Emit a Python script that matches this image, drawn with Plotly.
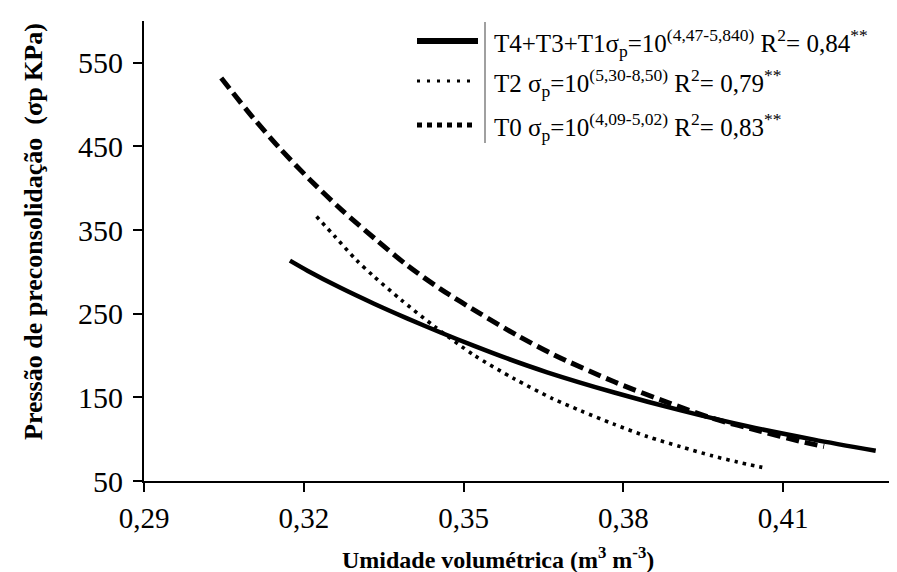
import plotly.graph_objects as go

# ---- data ----
solid_x = [0.3174, 0.3207, 0.3269, 0.3332, 0.3394, 0.3457, 0.3520, 0.3582, 0.3657, 0.3783, 0.3908, 0.4033, 0.4158, 0.4274]
solid_y = [313.5, 301.5, 281.0, 262.0, 244.5, 227.5, 211.5, 196.5, 180.0, 155.8, 134.4, 115.5, 99.5, 86.1]

t2_x = [0.3224, 0.3259, 0.3299, 0.3331, 0.3382, 0.3445, 0.3520, 0.3595, 0.3667, 0.3720, 0.3782, 0.3845, 0.3908, 0.3967, 0.4014, 0.4061]
t2_y = [366.3, 342.0, 314.0, 295.0, 267.0, 235.0, 200.4, 172.3, 148.6, 134.0, 118.0, 103.2, 91.0, 80.1, 72.8, 66.3]

t0_x = [0.3045, 0.3105, 0.3155, 0.3212, 0.3271, 0.3334, 0.3394, 0.3457, 0.3532, 0.3601, 0.3670, 0.3783, 0.3901, 0.3970, 0.4058, 0.4133, 0.4177]
t0_y = [531.8, 484.2, 447.8, 410.0, 374.2, 339.5, 308.0, 279.5, 249.8, 224.0, 200.8, 168.6, 139.8, 124.5, 109.5, 97.3, 91.3]

x_ticks = [0.29, 0.32, 0.35, 0.38, 0.41]
x_ticktext = ["0,29", "0,32", "0,35", "0,38", "0,41"]
y_ticks = [50, 150, 250, 350, 450, 550]

legend_texts = [
    "T4+T3+T1σ<sub>p</sub>=10<sup>(4,47-5,840)</sup> R<sup>2</sup>= 0,84<sup>**</sup>",
    "T2 σ<sub>p</sub>=10<sup>(5,30-8,50)</sup> R<sup>2</sup>= 0,79<sup>**</sup>",
    "T0 σ<sub>p</sub>=10<sup>(4,09-5,02)</sup> R<sup>2</sup>= 0,83<sup>**</sup>",
]

FONT = "Liberation Serif, Times New Roman, serif"
W, H = 897, 572
ML, MR, MT, MB = 136, 0, 13, 99
PW, PH = W - ML - MR, H - MT - MB

def px(x):
    return (x - ML) / PW

def py(y):
    return (H - MB - y) / PH

fig = go.Figure()
fig.add_trace(go.Scatter(x=t0_x, y=t0_y, mode="lines",
                         line=dict(color="black", width=5, dash="13px,6px", shape="spline", smoothing=0.8),
                         showlegend=False, hoverinfo="skip"))
fig.add_trace(go.Scatter(x=t2_x, y=t2_y, mode="lines",
                         line=dict(color="black", width=3.6, dash="3.5px,5px", shape="spline", smoothing=0.8),
                         showlegend=False, hoverinfo="skip"))
fig.add_trace(go.Scatter(x=solid_x, y=solid_y, mode="lines",
                         line=dict(color="black", width=4.5, shape="spline", smoothing=0.8),
                         showlegend=False, hoverinfo="skip"))

shapes = []
rows = [33, 73, 117]
shapes.append(dict(type="line", xref="paper", yref="paper", x0=px(409), x1=px(470), y0=py(rows[0]), y1=py(rows[0]),
                   line=dict(color="black", width=6)))
shapes.append(dict(type="line", xref="paper", yref="paper", x0=px(409), x1=px(468), y0=py(rows[1]), y1=py(rows[1]),
                   line=dict(color="black", width=3.2, dash="3px,7px")))
shapes.append(dict(type="line", xref="paper", yref="paper", x0=px(409), x1=px(469), y0=py(rows[2]), y1=py(rows[2]),
                   line=dict(color="black", width=5, dash="5px,5px")))
shapes.append(dict(type="line", xref="paper", yref="paper", x0=px(477), x1=px(477), y0=py(14), y1=py(135),
                   line=dict(color="#808080", width=1.5)))

annotations = []
for r, t in zip(rows, legend_texts):
    annotations.append(dict(xref="paper", yref="paper", x=px(484), y=py(r + 2), xanchor="left", yanchor="middle",
                            text=t, showarrow=False, font=dict(family=FONT, size=25, color="black")))

annotations.append(dict(xref="paper", yref="paper", x=px(490), y=py(550), xanchor="center", yanchor="middle",
                        text="<b>Umidade volumétrica (m<sup>3</sup> m<sup>-3</sup>)</b>", showarrow=False,
                        font=dict(family=FONT, size=24, color="black")))
annotations.append(dict(xref="paper", yref="paper", x=px(25), y=py(224), xanchor="center", yanchor="middle",
                        text="<b>Pressão de preconsolidação  (σp KPa)</b>", textangle=-90, showarrow=False,
                        font=dict(family=FONT, size=26, color="black")))

fig.update_layout(
    width=W, height=H,
    margin=dict(l=ML, r=MR, t=MT, b=MB, pad=0),
    paper_bgcolor="white", plot_bgcolor="white",
    font=dict(family=FONT, color="black"),
    xaxis=dict(range=[0.29, 0.4329], tickvals=x_ticks, ticktext=x_ticktext, showgrid=False, zeroline=False,
               showline=True, linecolor="black", linewidth=2, ticks="outside", ticklen=9, tickwidth=1.5,
               tickcolor="black", ticklabelstandoff=1, tickfont=dict(family=FONT, size=29, color="black")),
    yaxis=dict(range=[50, 600], tickvals=y_ticks, showgrid=False, zeroline=False,
               showline=True, linecolor="black", linewidth=2, ticks="outside", ticklen=9, tickwidth=1.5,
               tickcolor="black", ticklabelstandoff=4, tickfont=dict(family=FONT, size=30, color="black")),
    shapes=shapes, annotations=annotations, showlegend=False,
)

fig.write_html("out.html")
